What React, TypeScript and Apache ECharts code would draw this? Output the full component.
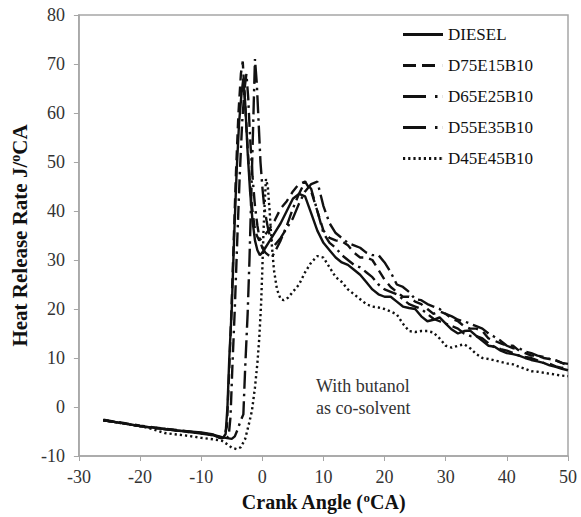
import React, { useEffect, useRef } from "react";
import * as echarts from "echarts";

// Heat release rate (J/°CA) against crank angle (°CA) for each fuel blend.
const diesel: [number, number][] = [
  [-26, -2.7], [-24, -3.1], [-22, -3.5], [-20, -3.9], [-18, -4.2], [-16, -4.5], [-14, -4.8],
  [-12, -5.0], [-10, -5.2], [-8, -5.6], [-7, -6.3], [-6.5, -6.4], [-6, -5.5], [-5.7, 0],
  [-5.4, 10], [-5, 20], [-4.6, 35], [-4.2, 48], [-3.8, 58], [-3.4, 64], [-3.1, 67],
  [-2.8, 62], [-2.4, 52], [-2, 44], [-1.6, 38], [-1.2, 34], [-0.8, 32], [-0.4, 31],
  [0, 31.5], [0.5, 32.5], [1, 33.5], [2, 35.5], [3, 37.5], [4, 40], [5, 42.5], [6, 43.5],
  [7, 43], [8, 39.5], [9, 36], [10, 33.5], [11, 32], [12, 30.5], [13, 29.5], [14, 29],
  [15, 28], [16, 27], [17, 25.5], [18, 24], [19, 23], [20, 22.5], [21, 22.5], [22, 21.5],
  [23, 20.5], [24, 20.2], [25, 20], [26, 18.5], [27, 17.5], [28, 17.8], [29, 18.3], [30, 17],
  [31, 15.8], [32, 15], [33, 15.5], [34, 15.6], [35, 14.5], [36, 13.5], [37, 12.5], [38, 12.3],
  [39, 11.5], [40, 11], [41, 10.8], [42, 10.5], [43, 10], [44, 9.6], [45, 9.3], [46, 9],
  [47, 8.5], [48, 8.2], [49, 7.8], [50, 7.5],
];

const d75e15b10: [number, number][] = [
  [-26, -2.6], [-24, -3.0], [-22, -3.4], [-20, -3.8], [-18, -4.1], [-16, -4.4], [-14, -4.7],
  [-12, -5.0], [-10, -5.3], [-8, -5.7], [-7, -6.0], [-6.3, -6.3], [-5.8, -4], [-5.5, 5],
  [-5.1, 18], [-4.7, 33], [-4.3, 48], [-3.9, 60], [-3.5, 68], [-3.2, 70.5], [-2.9, 64],
  [-2.5, 55], [-2.1, 47], [-1.7, 41], [-1.3, 37], [-0.9, 35], [-0.5, 34], [0, 34.5], [1, 36],
  [2, 38], [3, 40.5], [4, 42], [5, 44], [6, 45.5], [7, 46], [8, 44], [9, 40], [10, 36],
  [11, 34.5], [12, 34], [13, 33.8], [14, 33], [15, 31.5], [16, 30.5], [17, 30.5], [18, 30],
  [19, 28], [20, 26], [21, 24.5], [22, 23.5], [23, 22.5], [24, 22.5], [25, 21.5], [26, 21],
  [27, 20], [28, 19], [29, 19.5], [30, 19], [31, 18], [32, 17.5], [33, 16.5], [34, 16],
  [35, 16], [36, 15.5], [37, 14], [38, 13.5], [39, 13], [40, 12.5], [41, 12.5], [42, 11.5],
  [43, 11], [44, 10.5], [45, 10.5], [46, 10], [47, 9.8], [48, 9.5], [49, 9], [50, 8.5],
];

const d65e25b10: [number, number][] = [
  [-26, -2.7], [-24, -3.1], [-22, -3.5], [-20, -3.9], [-18, -4.2], [-16, -4.5], [-14, -4.8],
  [-12, -5.1], [-10, -5.4], [-8, -5.8], [-6, -6.3], [-5, -6.5], [-4.5, -6], [-4.1, -4.8],
  [-3.6, -3], [-3.1, -1.5], [-2.8, 8], [-2.4, 19], [-2.1, 30], [-1.7, 48], [-1.4, 62],
  [-1.2, 71], [-0.9, 66], [-0.6, 58], [-0.3, 50], [0, 45], [0.3, 41], [0.7, 38], [1, 36],
  [1.5, 34], [2, 33], [3, 34.5], [4, 36.5], [5, 38.5], [6, 41.5], [7, 44], [8, 45.5], [9, 46],
  [10, 41], [11, 37.5], [12, 35.5], [13, 34.5], [14, 33.5], [15, 33], [16, 32.5], [17, 31.5],
  [18, 31], [19, 31], [20, 29.5], [21, 27.5], [22, 25], [23, 24.5], [24, 23.5], [25, 22],
  [26, 21.8], [27, 21], [28, 20.5], [29, 20], [30, 19], [31, 18.5], [32, 17.8], [33, 17.5],
  [34, 17], [35, 16.5], [36, 16], [37, 15], [38, 14.3], [39, 13.5], [40, 12.5], [41, 12],
  [42, 12], [43, 11.3], [44, 11], [45, 10.5], [46, 10.2], [47, 9.8], [48, 9.5], [49, 9],
  [50, 8.8],
];

const d55e35b10: [number, number][] = [
  [-26, -2.7], [-24, -3.1], [-22, -3.5], [-20, -3.9], [-18, -4.2], [-16, -4.5], [-14, -4.8],
  [-12, -5.1], [-10, -5.4], [-8, -5.8], [-7, -6.2], [-6, -6.5], [-5.5, -6], [-5.2, -2],
  [-4.9, 8], [-4.5, 20], [-4.1, 34], [-3.7, 47], [-3.3, 58], [-2.9, 65], [-2.6, 68],
  [-2.3, 63], [-2, 55], [-1.6, 47], [-1.2, 41], [-0.8, 37], [-0.4, 34], [0, 32.5], [0.5, 31.5],
  [1, 31], [1.5, 30.5], [2, 31.5], [3, 34], [4, 37], [5, 40.5], [6, 43.5], [7, 46], [8, 44.5],
  [9, 40], [10, 35.5], [11, 33.5], [12, 32.5], [13, 31], [14, 30], [15, 29], [16, 28.5],
  [17, 27.5], [18, 26.5], [19, 25], [20, 24], [21, 23.5], [22, 23], [23, 22], [24, 21],
  [25, 20.5], [26, 20], [27, 19], [28, 18], [29, 17.5], [30, 17], [31, 16.5], [32, 16],
  [33, 15], [34, 14.5], [35, 14.5], [36, 14], [37, 13], [38, 12.2], [39, 11.8], [40, 11.5],
  [41, 11], [42, 10.5], [43, 10.2], [44, 10], [45, 9.5], [46, 9], [47, 8.8], [48, 8.3],
  [49, 8], [50, 7.8],
];

const d45e45b10: [number, number][] = [
  [-26, -2.7], [-24, -3.1], [-22, -3.5], [-20, -3.9], [-18, -4.5], [-16, -5.3], [-14, -5.6],
  [-12, -5.9], [-10, -6.3], [-8, -6.6], [-6.6, -6.9], [-5.5, -7.8], [-5, -8.3], [-4.2, -8.6],
  [-3.5, -8.2], [-2.8, -6.5], [-2.2, -3.5], [-1.7, -0.8], [-1.2, 4], [-0.8, 9], [-0.5, 14],
  [-0.2, 21], [0, 28], [0.2, 36], [0.4, 42], [0.6, 46.5], [0.9, 45], [1.2, 40], [1.5, 34],
  [1.9, 28], [2.4, 24], [3, 22], [3.5, 21.8], [4.2, 22.3], [5, 23.5], [6, 25], [7, 27.5],
  [8, 29.5], [9, 30.8], [10, 30.5], [11, 28.5], [12, 26.5], [13, 25.5], [14, 24], [15, 23],
  [16, 22], [17, 21], [18, 20.5], [19, 20.3], [20, 20], [21, 19.5], [22, 18.9], [23, 17],
  [24, 15.5], [25, 15.3], [26, 15.5], [27, 15.5], [28, 15.2], [29, 14], [30, 12.5], [31, 12.1],
  [32, 12.5], [33, 12.8], [34, 12], [35, 10.8], [36, 10], [37, 9.8], [38, 9.5], [39, 9.2],
  [40, 8.9], [41, 8.7], [42, 8.2], [43, 7.8], [44, 7.3], [45, 7.2], [46, 7], [47, 6.8],
  [48, 6.6], [49, 6.4], [50, 6.3],
];

const seriesNames = ["DIESEL", "D75E15B10", "D65E25B10", "D55E35B10", "D45E45B10"];
const seriesData = [diesel, d75e15b10, d65e25b10, d55e35b10, d45e45b10];
const dashPatterns: (string | number[])[] = ["solid", [10, 6], [18, 5, 2.5, 5], [14, 5, 2.5, 5], [2.2, 3]];

// Legend keys drawn as filled strokes, 40 x 3 px each.
const legendIcons = [
  "path://M0,0h40v3h-40z",
  "path://M0,0h13v3h-13z M19,0h13v3h-13z M39.9,0h0.1v3h-0.1z",
  "path://M0,0h23v3h-23z M32,0h2.5v3h-2.5z M39.9,0h0.1v3h-0.1z",
  "path://M0,0h23v3h-23z M32,0h2.5v3h-2.5z M39.9,0h0.1v3h-0.1z",
  "path://M0,0h2.2v3h-2.2z M5.2,0h2.2v3h-2.2z M10.4,0h2.2v3h-2.2z M15.6,0h2.2v3h-2.2z M20.8,0h2.2v3h-2.2z M26,0h2.2v3h-2.2z M31.2,0h2.2v3h-2.2z M36.4,0h2.2v3h-2.2z M39.9,0h0.1v3h-0.1z",
];

const serif = "Liberation Serif";
const ink = "#111";
const axisGray = "#a6a6a6";

function nameRich(size: number) {
  return {
    b: { fontFamily: serif, fontWeight: "bold", fontSize: size, color: ink },
    s: {
      fontFamily: serif,
      fontWeight: "bold",
      fontSize: Math.round(size * 0.65),
      color: ink,
      verticalAlign: "top",
      padding: [0, 0, Math.round(size * 0.45), 0],
    },
  };
}

export default function App() {
  const ref = useRef<HTMLDivElement>(null);

  useEffect(() => {
    if (!ref.current) return;
    const chart = echarts.init(ref.current, undefined, { renderer: "svg" });

    chart.setOption({
      animation: false,
      backgroundColor: "#fff",
      grid: {
        left: 76,
        right: 13,
        top: 15,
        bottom: 61,
        show: true,
        borderColor: axisGray,
        borderWidth: 1.5,
      },
      legend: {
        orient: "vertical",
        left: 398,
        top: 21,
        itemWidth: 40,
        itemHeight: 3,
        itemGap: 14,
        data: seriesNames.map((name, i) => ({ name, icon: legendIcons[i] })),
        itemStyle: { color: ink, borderWidth: 0 },
        textStyle: { fontFamily: serif, fontSize: 17, color: ink },
      },
      xAxis: {
        type: "value",
        min: -30,
        max: 50,
        interval: 10,
        name: "{b|Crank Angle (}{s|o}{b|CA)}",
        nameLocation: "middle",
        nameGap: 34,
        nameTextStyle: { rich: nameRich(20) },
        axisLine: { onZero: false, lineStyle: { color: axisGray, width: 1.5 } },
        axisTick: { show: true, length: 5, lineStyle: { color: axisGray } },
        axisLabel: { fontFamily: serif, fontSize: 18, color: "#333", margin: 12 },
        splitLine: { show: false },
      },
      yAxis: {
        type: "value",
        min: -10,
        max: 80,
        interval: 10,
        name: "{b|Heat Release Rate J/}{s|o}{b|CA}",
        nameLocation: "middle",
        nameRotate: 90,
        nameGap: 46,
        nameTextStyle: { rich: nameRich(21) },
        axisLine: { show: true, onZero: false, lineStyle: { color: axisGray, width: 1.5 } },
        axisTick: { show: true, length: 5, lineStyle: { color: axisGray } },
        axisLabel: { fontFamily: serif, fontSize: 18, color: "#333", margin: 14 },
        splitLine: { show: false },
      },
      graphic: [
        {
          type: "text",
          left: 316,
          top: 375,
          style: {
            text: "With butanol\nas co-solvent",
            fontFamily: serif,
            fontSize: 18,
            lineHeight: 22,
            fill: "#333",
          },
        },
      ],
      series: seriesNames.map((name, i) => ({
        name,
        type: "line",
        data: seriesData[i],
        symbol: "none",
        smooth: false,
        lineStyle: {
          color: ink,
          width: 2.4,
          type: dashPatterns[i],
          cap: "butt",
        },
        itemStyle: { color: ink },
      })),
    });

    return () => chart.dispose();
  }, []);

  return (
    <div
      ref={ref}
      style={{ position: "fixed", left: 0, top: 0, width: 581, height: 517 }}
    />
  );
}
